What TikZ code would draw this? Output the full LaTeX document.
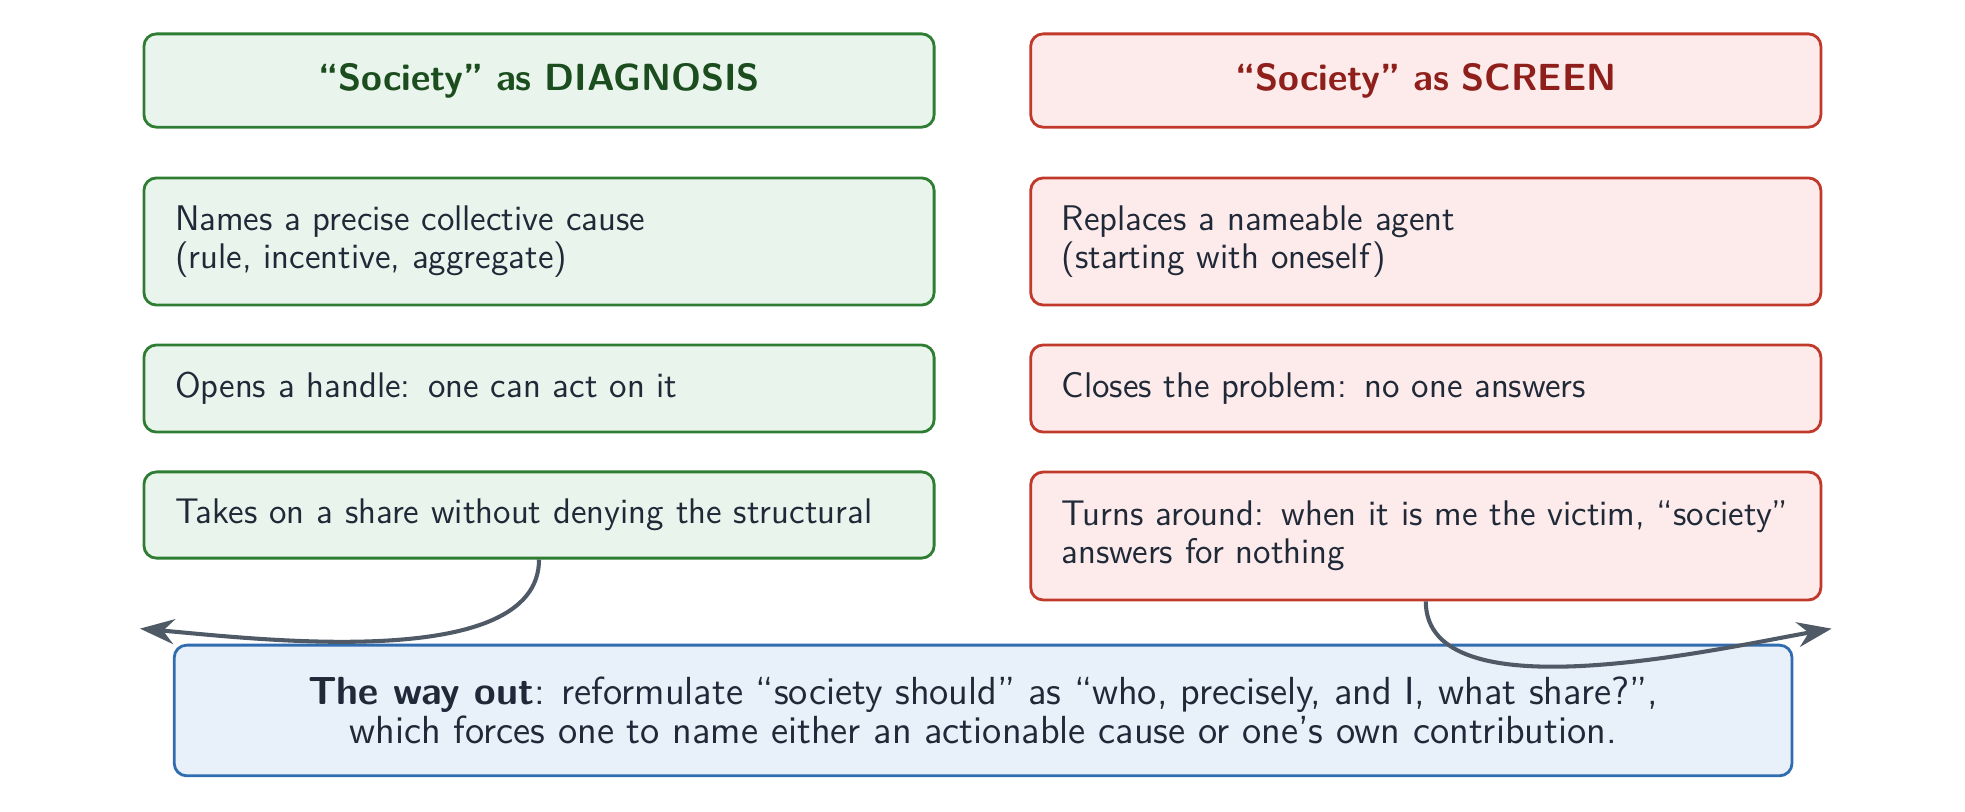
\documentclass[tikz,border=0pt]{standalone}
\usepackage{tikz}
\usepackage{xcolor}
\usetikzlibrary{arrows.meta}
\definecolor{diagline}{HTML}{2E7D32}
\definecolor{diagfill}{HTML}{E9F5EC}
\definecolor{diagtext}{HTML}{1B4D1E}
\definecolor{scrline}{HTML}{C0392B}
\definecolor{scrfill}{HTML}{FDEAEA}
\definecolor{scrtext}{HTML}{8E1F1A}
\definecolor{wayline}{HTML}{2F6DB0}
\definecolor{wayfill}{HTML}{E8F0FA}
\definecolor{inktext}{HTML}{1F2937}
\definecolor{arrowgray}{HTML}{4F5A66}
\begin{document}
\begin{tikzpicture}[font=\sffamily\fontsize{11.4}{12}\selectfont,
  card/.style={rounded corners=4pt,line width=0.9pt,minimum width=8.89cm,text width=8.19cm,inner xsep=0.35cm,align=left,text=inktext},
  diagbox/.style={card,draw=diagline,fill=diagfill},
  scrbox/.style={card,draw=scrline,fill=scrfill},
  headbox/.style={align=center,font=\sffamily\bfseries\fontsize{12.1}{14}\selectfont,minimum height=1.05cm},
  linkarrow/.style={-{Stealth[length=11pt,width=8pt]},line width=1.3pt,draw=arrowgray,looseness=0.72}]
\useasboundingbox (0,0) rectangle (22.106,-9.135);
\node[diagbox,headbox,text=diagtext] (diaghead) at (6.064,-0.906) {``Society'' as DIAGNOSIS};
\node[scrbox,headbox,text=scrtext] (scrhead) at (16.04,-0.906) {``Society'' as SCREEN};
\node[diagbox,minimum height=1.43cm] (diagone) at (6.064,-2.717) {Names a precise collective cause\\(rule, incentive, aggregate)};
\node[scrbox,minimum height=1.43cm] (scrone) at (16.04,-2.717) {Replaces a nameable agent\\(starting with oneself)};
\node[diagbox,minimum height=0.98cm] (diagtwo) at (6.064,-4.371) {Opens a handle: one can act on it};
\node[scrbox,minimum height=0.98cm] (scrtwo) at (16.04,-4.371) {Closes the problem: no one answers};
\node[diagbox,minimum height=0.97cm] (diagthree) at (6.064,-5.794) {Takes on a share without denying the structural};
\node[scrbox,minimum height=1.44cm] (scrthree) at (16.04,-6.03) {Turns around: when it is me the victim, ``society''\\answers for nothing};
\node[rounded corners=4pt,line width=0.9pt,draw=wayline,fill=wayfill,minimum width=18.2cm,minimum height=1.47cm,align=center,text=inktext,font=\sffamily\fontsize{12.55}{12.4}\selectfont] (wayout) at (11.06,-7.993) {\textbf{The way out}: reformulate ``society should'' as ``who, precisely, and I, what share?'',\\which forces one to name either an actionable cause or one's own contribution.};
\coordinate (lefttip) at ([xshift=-0.37cm,yshift=0.17cm]wayout.north west);
\coordinate (righttip) at ([xshift=0.43cm,yshift=0.17cm]wayout.north east);
\draw[linkarrow] (diagthree.south) to[out=-90,in=-5] (lefttip);
\draw[linkarrow] (scrthree.south) to[out=-90,in=190] (righttip);
\end{tikzpicture}
\end{document}
